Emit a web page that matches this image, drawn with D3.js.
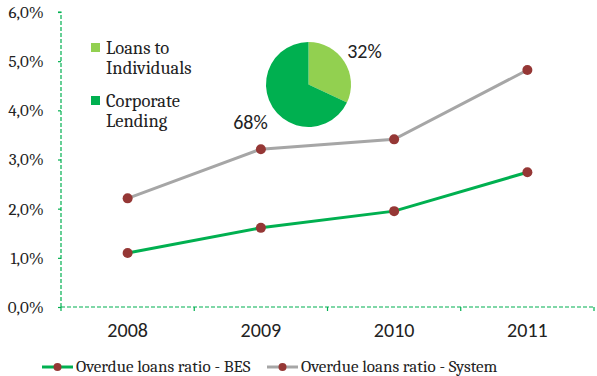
<!DOCTYPE html>
<html>
<head>
<meta charset="utf-8">
<script src="https://cdn.jsdelivr.net/npm/d3@7"></script>
<style>
  html, body { margin: 0; padding: 0; background: #fff; }
  svg { display: block; }
</style>
</head>
<body>
<svg id="chart" width="597" height="376"></svg>
<script>
// Overdue loans ratio, yearly
const years = ["2008", "2009", "2010", "2011"];
const besRatio = [1.10, 1.61, 1.95, 2.74];
const systemRatio = [2.21, 3.21, 3.41, 4.82];
const yTicks = [0, 1, 2, 3, 4, 5, 6];

// Loan portfolio split
const mixLabels = ["Loans to Individuals", "Corporate Lending"];
const mixShares = [32, 68];

const serif = "Cambria, 'Liberation Serif', 'DejaVu Serif', serif";
const sans = "Calibri, 'Carlito', 'Liberation Sans', 'Open Sans', sans-serif";

const axisGreen = "#00B050";
const besColor = "#00B050";
const sysColor = "#A6A6A6";
const markerColor = "#953735";
const mixColors = ["#92D050", "#00B050"];

const svg = d3.select("#chart");
const plotLeft = 61, plotRight = 594, plotTop = 12, plotBottom = 307;

const x = d3.scaleBand().domain(years).range([plotLeft, plotRight]);
const y = d3.scaleLinear().domain([0, 6]).range([plotBottom, plotTop]);

// Y axis
const yAxis = svg.append("g").attr("transform", `translate(${plotLeft},0)`)
  .call(d3.axisLeft(y).tickValues(yTicks).tickSize(3).tickPadding(14)
    .tickFormat(d => d3.format(".1f")(d).replace(".", ",") + "%"));
yAxis.select(".domain").attr("stroke", axisGreen).attr("stroke-width", 1.2)
  .attr("stroke-dasharray", "4,2").attr("d", `M-3,${plotTop}H0V${plotBottom}`);
yAxis.selectAll(".tick line").attr("stroke", axisGreen).attr("stroke-width", 1.2);
yAxis.selectAll(".tick text").attr("font-family", serif).attr("font-size", 17)
  .attr("fill", "#222");

// X axis
const xAxis = svg.append("g").attr("transform", `translate(0,${plotBottom})`)
  .call(d3.axisBottom(x).tickSize(0).tickPadding(16));
xAxis.select(".domain").attr("stroke", axisGreen).attr("stroke-width", 1.2)
  .attr("stroke-dasharray", "4,2").attr("d", `M${plotLeft},0H${plotRight}`);
xAxis.selectAll(".tick text").attr("font-family", sans).attr("font-size", 20)
  .attr("fill", "#222");
// boundary ticks between categories
const bounds = years.map(d => x(d)).concat([x(years[years.length - 1]) + x.bandwidth()]);
xAxis.selectAll(".btick").data(bounds).join("line")
  .attr("x1", d => d).attr("x2", d => d).attr("y1", 0).attr("y2", 4)
  .attr("stroke", axisGreen).attr("stroke-width", 1.2);

// Lines
const line = d3.line().x((d, i) => x(years[i]) + x.bandwidth() / 2).y(d => y(d));
const series = [
  { name: "Overdue loans ratio - BES", values: besRatio, color: besColor },
  { name: "Overdue loans ratio - System", values: systemRatio, color: sysColor }
];
series.forEach(s => {
  svg.append("path").datum(s.values).attr("d", line)
    .attr("fill", "none").attr("stroke", s.color).attr("stroke-width", 3);
  svg.selectAll(null).data(s.values).join("circle")
    .attr("cx", (d, i) => x(years[i]) + x.bandwidth() / 2)
    .attr("cy", d => y(d)).attr("r", 5).attr("fill", markerColor);
});

// Pie of loan mix
const pie = d3.pie().sort(null).value(d => d)(mixShares);
const arc = d3.arc().innerRadius(0).outerRadius(42.5);
const pieG = svg.append("g").attr("transform", "translate(308.5,84.5)");
pieG.selectAll("path").data(pie).join("path")
  .attr("d", arc).attr("fill", (d, i) => mixColors[i]);
const pctPos = [[56, -27], [-58, 44]];
pieG.selectAll("text").data(pie).join("text")
  .attr("x", (d, i) => pctPos[i][0]).attr("y", (d, i) => pctPos[i][1])
  .attr("text-anchor", "middle")
  .attr("font-family", sans).attr("font-size", 20).attr("fill", "#222")
  .text(d => d.data + "%");

// Pie legend
const mixLines = [["Loans to", "Individuals"], ["Corporate", "Lending"]];
const mixLeg = svg.append("g").attr("transform", "translate(91,42)");
mixLabels.forEach((lab, i) => {
  const g = mixLeg.append("g").attr("transform", `translate(0,${i * 53})`);
  g.append("rect").attr("width", 9).attr("height", 9).attr("y", 1).attr("fill", mixColors[i]);
  const t = g.append("text").attr("font-family", serif).attr("font-size", 18.5).attr("fill", "#222");
  mixLines[i].forEach((ln, j) => t.append("tspan").attr("x", 15).attr("y", 12 + j * 20).text(ln));
});

// Series legend
const legX = [42, 267];
series.forEach((s, i) => {
  const g = svg.append("g").attr("transform", `translate(${legX[i]},367)`);
  g.append("line").attr("x1", 0).attr("x2", 31).attr("stroke", s.color).attr("stroke-width", 3);
  g.append("circle").attr("cx", 15.5).attr("r", 4).attr("fill", markerColor);
  g.append("text").attr("x", 34).attr("y", 5).attr("font-family", serif)
    .attr("font-size", 17).attr("fill", "#222").text(s.name);
});
</script>
</body>
</html>
